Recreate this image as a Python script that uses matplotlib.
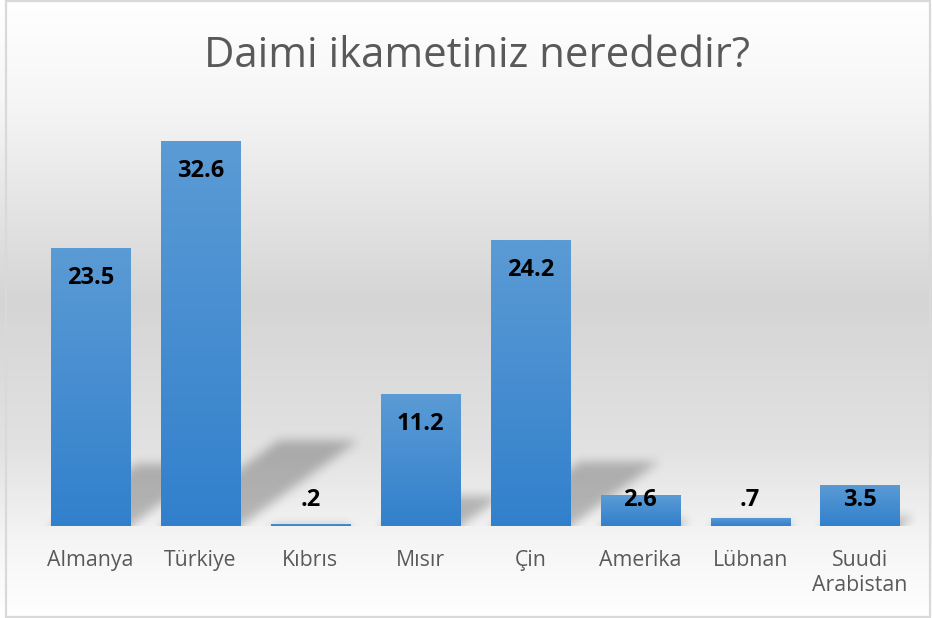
import numpy as np
import matplotlib
matplotlib.use("Agg")
import matplotlib.pyplot as plt
from matplotlib.patches import Rectangle

# ---- data ----
categories = ["Almanya", "Türkiye", "Kıbrıs", "Mısır", "Çin", "Amerika", "Lübnan", "Suudi\nArabistan"]
values = [23.5, 32.6, 0.2, 11.2, 24.2, 2.6, 0.7, 3.5]
title = "Daimi ikametiniz nerededir?"

W, H = 932, 618
fig = plt.figure(figsize=(W / 100, H / 100), dpi=100)

# ---- background gradient (figure level) ----
bg = fig.add_axes([0, 0, 1, 1], zorder=0)
ys = np.arange(H)
stops_y = [0, 100, 300, 450, 540, 618]
stops_v = [255, 246, 213, 226, 245, 255]
col = np.interp(ys, stops_y, stops_v) / 255.0
img = np.repeat(col[:, None, None], 3, axis=2)
bg.imshow(img, extent=[0, W, H, 0], aspect="auto", interpolation="bilinear")
bg.set_xlim(0, W)
bg.set_ylim(H, 0)
bg.axis("off")

# ---- main axes ----
base_px, top_px = 526, 112.7
left_px, right_px = 35.5, 915
ax = fig.add_axes([left_px / W, (H - base_px) / H, (right_px - left_px) / W,
                   (base_px - top_px) / H], zorder=1)
ax.patch.set_alpha(0)
ymax = 35
ax.set_xlim(-0.5, len(values) - 0.5)
ax.set_ylim(0, ymax)

x = np.arange(len(values))
bw = 0.72

# ---- reflected shadows (derived from bar values) ----
px_per_x = (right_px - left_px) / len(values)
px_per_y = (base_px - top_px) / ymax
k = 1.39 * px_per_y / px_per_x      # skew in data units
sh_ratio = 0.22
gx0, gx1 = -0.5, len(values) - 0.5
gy0, gy1 = -1.5, 10.0
nx = int((gx1 - gx0) * px_per_x)
ny = int((gy1 - gy0) * px_per_y)
gx = gx0 + (np.arange(nx) + 0.5) / px_per_x
gy = gy0 + (np.arange(ny) + 0.5) / px_per_y
GX, GY = np.meshgrid(gx, gy)
mask = np.zeros_like(GX)
for xi, v in zip(x, values):
    hs = sh_ratio * v
    yy = np.clip(GY, 0, None)
    m = (GY <= hs) & (GX >= xi - bw / 2 + k * yy) & (GX <= xi + bw / 2 + k * yy)
    mask[m] = 1.0
sig = 5.0
kr = np.arange(-15, 16)
kern = np.exp(-kr ** 2 / (2 * sig ** 2))
kern /= kern.sum()
blur = np.apply_along_axis(lambda r: np.convolve(r, kern, mode="same"), 1, mask)
blur = np.apply_along_axis(lambda c: np.convolve(c, kern, mode="same"), 0, blur)
rgba = np.zeros((ny, nx, 4))
rgba[..., 3] = 0.25 * blur
ax.imshow(rgba, extent=[gx0, gx1, gy0, gy1], origin="lower", aspect="auto",
          zorder=1, interpolation="bilinear")

# ---- bars with vertical gradient ----
top_c = np.array([91, 155, 213]) / 255
bot_c = np.array([50, 128, 204]) / 255
bars = ax.bar(x, values, width=bw, color="#4a8fd3", zorder=2, linewidth=0)
t = np.linspace(0, 1, 64)[:, None]
grad = (bot_c[None, :] * (1 - t) + top_c[None, :] * t)[:, None, :]
for b in bars:
    bx0, bh = b.get_x(), b.get_height()
    im = ax.imshow(grad, extent=[bx0, bx0 + b.get_width(), 0, bh], origin="lower",
                   aspect="auto", zorder=2.1, interpolation="bilinear")
    im.set_clip_path(b)

ax.set_xlim(-0.5, len(values) - 0.5)
ax.set_ylim(0, ymax)

# ---- data labels ----
off = 30 / px_per_y
minc = 26 / px_per_y
for xi, v in zip(x, values):
    lab = f"{v:.1f}"
    if lab.startswith("0"):
        lab = lab[1:]
    yc = max(v - off, minc)
    ax.text(xi, yc, lab, ha="center", va="center", fontsize=17,
            fontweight="bold", family=["Open Sans", "DejaVu Sans"], color="black", zorder=5)

# ---- axes styling ----
for s in ax.spines.values():
    s.set_visible(False)
ax.set_yticks([])
ax.set_xticks(x)
ax.set_xticklabels(categories, fontsize=15.3, color="#595959",
                   family=["Open Sans", "DejaVu Sans"])
ax.tick_params(axis="x", length=0, pad=17)
for tl in ax.get_xticklabels():
    tl.set_linespacing(1.3)

# ---- title ----
fig.text(476.5 / W, (H - 66.7) / H, title, ha="center", va="baseline",
         fontsize=30.2, color="#595959", fontweight="normal",
         family=["Open Sans", "DejaVu Sans"], zorder=3)

# ---- border ----
fig.patches.append(Rectangle((5.5 / W, (H - 616.5) / H), (930 - 5.5) / W, (616.5 - 1) / H,
                             transform=fig.transFigure, fill=False,
                             edgecolor="#d9d9d9", linewidth=1.6, zorder=10))

fig.savefig("out.png", dpi=100)
